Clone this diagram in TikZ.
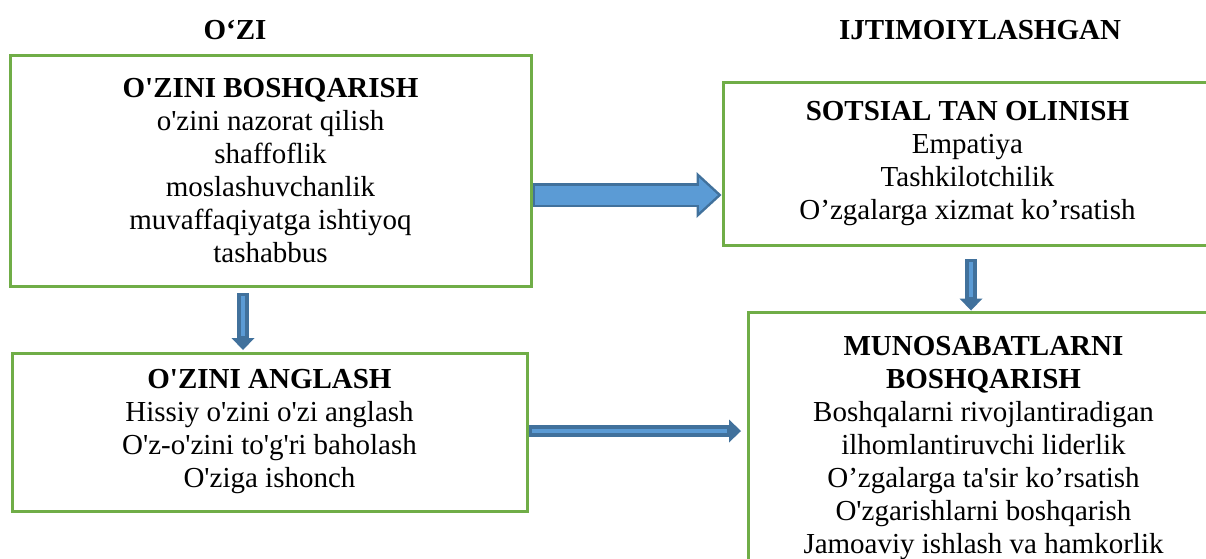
\documentclass[tikz,border=0pt]{standalone}
\usepackage{fontspec}
\setmainfont{Liberation Serif}[Ligatures=TeXOff]
\usetikzlibrary{arrows.meta}

\definecolor{boxgreen}{RGB}{112,173,71}
\definecolor{arrowdark}{RGB}{65,113,156}
\definecolor{arrowlight}{RGB}{91,155,213}

\begin{document}
\begin{tikzpicture}[x=1pt,y=-1pt,font=\fontsize{29}{33}\selectfont]

		\tikzstyle{every node}=[inner sep=0pt]
		\tikzstyle{box}=[draw=boxgreen,line width=3pt,align=center]
		\tikzstyle{headline}=[font=\fontsize{29}{33}\selectfont\bfseries]
		\tikzstyle{bigarrow}=[draw=arrowdark,line width=24pt,-{Triangle[length=25pt,width=46pt,line width=0pt]},
			postaction={draw=arrowlight,line width=19pt,shorten <=2.5pt,shorten >=3.7pt,-{Triangle[length=18.8pt,width=34.6pt,line width=0pt]}}]
		\tikzstyle{smallarrow}=[draw=arrowdark,line width=12pt,-{Triangle[length=12pt,width=23pt,line width=0pt]},
			postaction={draw=arrowlight,line width=4pt,shorten <=3pt,shorten >=14pt,-}]

		\useasboundingbox (0,0) rectangle (1206,558);
		\clip (0,0) rectangle (1206,558);

		\node[headline] (h_1) at (235,30) {O‘ZI};
		\node[headline] (h_2) at (980,30) {IJTIMOIYLASHGAN};

		\node[box,minimum width=521pt,minimum height=231pt] (b_1) at (270.5,170.5)
			{\textbf{O'ZINI BOSHQARISH}\\o'zini nazorat qilish\\shaffoflik\\moslashuvchanlik\\muvaffaqiyatga ishtiyoq\\tashabbus};
		\node[box,minimum width=515pt,minimum height=158pt] (b_2) at (269.5,432)
			{\textbf{O'ZINI ANGLASH}\\Hissiy o'zini o'zi anglash\\O'z-o'zini to'g'ri baholash\\O'ziga ishonch};
		\node[box,minimum width=489pt,minimum height=163pt] (b_3) at (967.5,163.5)
			{\textbf{SOTSIAL TAN OLINISH}\\Empatiya\\Tashkilotchilik\\O’zgalarga xizmat ko’rsatish};
		\node[box,minimum width=471pt,minimum height=273pt] (b_4) at (983.5,448.5)
			{\textbf{MUNOSABATLARNI}\\\textbf{BOSHQARISH}\\Boshqalarni rivojlantiradigan\\ilhomlantiruvchi liderlik\\O’zgalarga ta'sir ko’rsatish\\O'zgarishlarni boshqarish\\Jamoaviy ishlash va hamkorlik};

		\path ([yshift=-24.5pt]b_1.east) edge[bigarrow] ([yshift=-31.5pt]b_3.west)
			([xshift=-27.5pt,yshift=-5.5pt]b_1.south) edge[smallarrow] ([xshift=-26.5pt,yshift=1.5pt]b_2.north)
			([yshift=1pt]b_2.east) edge[smallarrow] ([xshift=-5.5pt,yshift=17.5pt]b_4.west)
			([xshift=3.5pt,yshift=-12.5pt]b_3.south) edge[smallarrow] ([xshift=-12.5pt]b_4.north);
\end{tikzpicture}
\end{document}
